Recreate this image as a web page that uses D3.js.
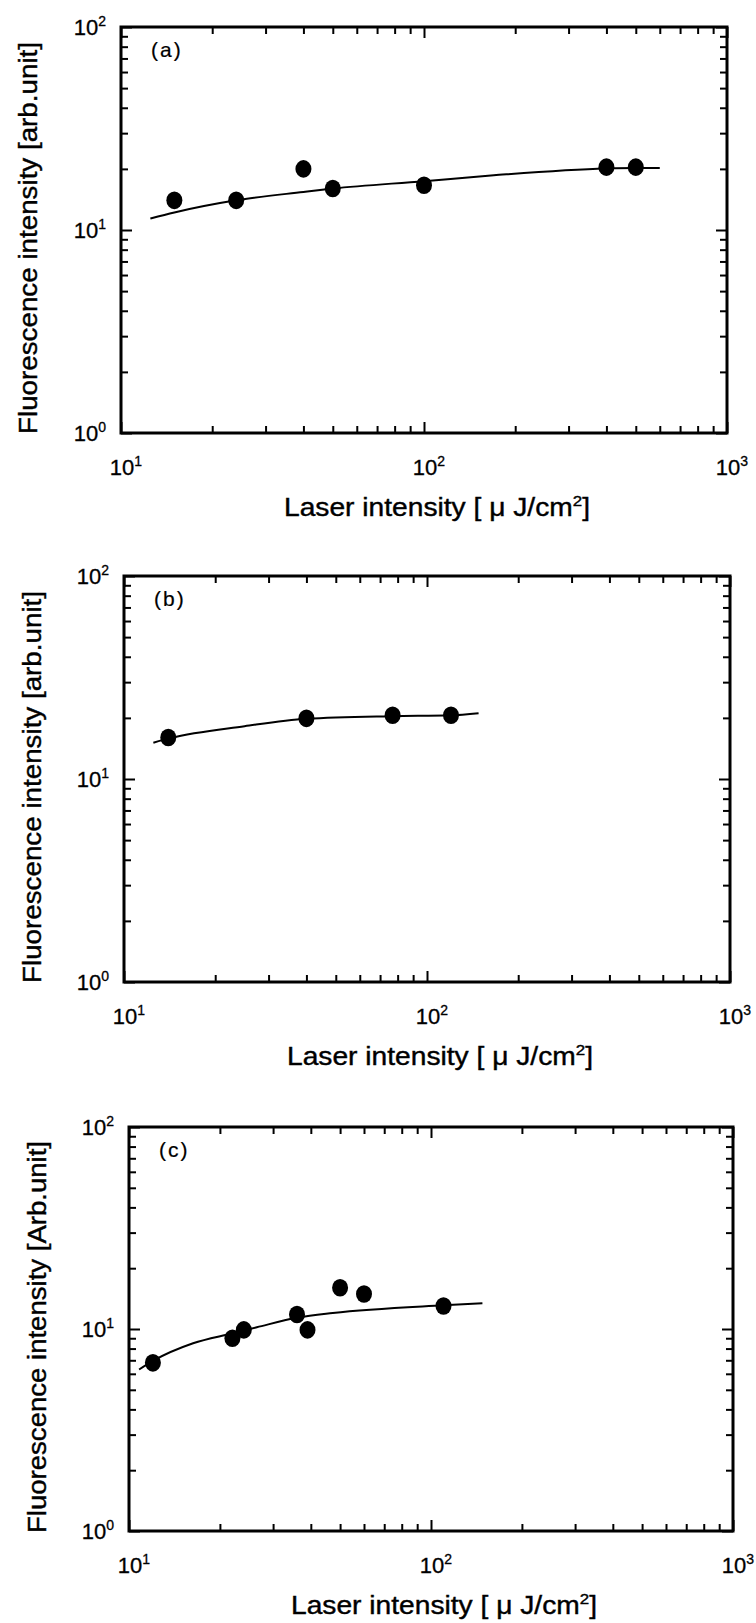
<!DOCTYPE html>
<html><head><meta charset="utf-8">
<script src="https://cdn.jsdelivr.net/npm/d3@7"></script>
<style>
  body { margin: 0; background: #fff; }
  svg { display: block; }
  text { font-family: "Liberation Sans", Arial, sans-serif; fill: #000; }
</style>
</head><body>
<svg id="fig" width="756" height="1623"></svg>
<script>
// Fluorescence intensity versus laser intensity for three samples, log-log axes.

const panelLabels = ["(a)", "(b)", "(c)"];
const yTitles = [
  "Fluorescence intensity [arb.unit]",
  "Fluorescence intensity [arb.unit]",
  "Fluorescence intensity [Arb.unit]"
];
const xTitle = "Laser intensity [ \u03bc J/cm";
const xTitleSup = "2";

const xMajorTicks = [10, 100, 1000];
const xMajorExp = ["1", "2", "3"];
const xMinorTicks = [20, 30, 40, 50, 60, 70, 80, 90, 200, 300, 400, 500, 600, 700, 800, 900];
const yMajorTicks = [1, 10, 100];
const yMajorExp = ["0", "1", "2"];
const yMinorTicks = [2, 3, 4, 5, 6, 7, 8, 9, 20, 30, 40, 50, 60, 70, 80, 90];

// (a) measured points and fitted curve
const pointsA_x = [15, 24, 40, 50, 100, 400, 500];
const pointsA_y = [14, 14, 20, 16, 16.6, 20.4, 20.4];
const fitA_x = [12.5, 15, 24, 40, 50, 100, 170, 400, 500, 600];
const fitA_y = [11.4, 12.2, 14.0, 15.4, 16.0, 17.4, 18.6, 20.1, 20.2, 20.2];

// (b)
const pointsB_x = [14, 40, 77, 120];
const pointsB_y = [16, 19.9, 20.6, 20.6];
const fitB_x = [12.5, 14.2, 25, 40, 77, 120, 148];
const fitB_y = [15.1, 15.9, 18.2, 19.8, 20.4, 20.6, 21.1];

// (c)
const pointsC_x = [12, 22, 24, 36, 39, 50, 60, 110];
const pointsC_y = [6.8, 9.0, 9.9, 11.8, 9.9, 16, 14.9, 13];
const fitC_x = [10.8, 12, 16.3, 21.9, 26.5, 36.3, 47.3, 110, 148];
const fitC_y = [6.3, 6.95, 8.5, 9.5, 10.2, 11.4, 12.0, 13.1, 13.4];

const series = [
  { px: pointsA_x, py: pointsA_y, fx: fitA_x, fy: fitA_y },
  { px: pointsB_x, py: pointsB_y, fx: fitB_x, fy: fitB_y },
  { px: pointsC_x, py: pointsC_y, fx: fitC_x, fy: fitC_y }
];

// frame of each plot area
const frames = [
  { left: 121, top: 27,   w: 606, h: 406, yLabelX: 28, xTitleX: 437 },
  { left: 124, top: 576,  w: 606, h: 406, yLabelX: 32, xTitleX: 440 },
  { left: 129, top: 1127, w: 604, h: 404, yLabelX: 37, xTitleX: 444 }
];

const svg = d3.select("#fig");

frames.forEach((f, i) => {
  const s = series[i];
  const x = d3.scaleLog().domain([10, 1000]).range([0, f.w]);
  const y = d3.scaleLog().domain([1, 100]).range([f.h, 0]);

  const g = svg.append("g").attr("transform", `translate(${f.left},${f.top})`);

  // inward ticks on all four sides
  const tickSets = [
    { gen: d3.axisBottom, sc: x, tr: `translate(0,${f.h})` },
    { gen: d3.axisTop, sc: x, tr: `translate(0,0)` },
    { gen: d3.axisLeft, sc: y, tr: `translate(0,0)` },
    { gen: d3.axisRight, sc: y, tr: `translate(${f.w},0)` }
  ];
  tickSets.forEach(t => {
    const isX = t.sc === x;
    [[isX ? xMajorTicks : yMajorTicks, 11], [isX ? xMinorTicks : yMinorTicks, 7]].forEach(([vals, len]) => {
      const ax = g.append("g").attr("transform", t.tr)
        .call(t.gen(t.sc).tickValues(vals).tickSize(-len).tickFormat(""));
      ax.select(".domain").remove();
      ax.selectAll("line").attr("stroke", "#000").attr("stroke-width", 2);
    });
  });

  // frame
  g.append("rect").attr("x", 0).attr("y", 0).attr("width", f.w).attr("height", f.h)
    .attr("fill", "none").attr("stroke", "#000").attr("stroke-width", 3);

  // y tick labels (10^n)
  yMajorTicks.forEach((v, k) => {
    const t = g.append("text")
      .attr("x", -15).attr("y", y(v) + 8)
      .attr("text-anchor", "end").attr("font-size", 22)
      .attr("stroke", "#000").attr("stroke-width", 0.3);
    t.append("tspan").text("10");
    t.append("tspan").attr("dy", -9).attr("font-size", 14).text(yMajorExp[k]);
  });

  // x tick labels (10^n)
  xMajorTicks.forEach((v, k) => {
    const t = g.append("text")
      .attr("x", x(v) + 5).attr("y", f.h + 42)
      .attr("text-anchor", "middle").attr("font-size", 22)
      .attr("stroke", "#000").attr("stroke-width", 0.3);
    t.append("tspan").text("10");
    t.append("tspan").attr("dy", -9).attr("font-size", 14).text(xMajorExp[k]);
  });

  // panel label
  g.append("text").attr("x", 30).attr("y", 30).attr("font-size", 21)
    .attr("stroke", "#000").attr("stroke-width", 0.2)
    .attr("letter-spacing", 2).text(panelLabels[i]);

  // fitted curve
  const fit = s.fx.map((v, k) => [v, s.fy[k]]);
  g.append("path").datum(fit)
    .attr("d", d3.line().x(d => x(d[0])).y(d => y(d[1])).curve(d3.curveMonotoneX))
    .attr("fill", "none").attr("stroke", "#000").attr("stroke-width", 2);

  // measured points
  const pts = s.px.map((v, k) => [v, s.py[k]]);
  g.selectAll("ellipse.pt").data(pts).join("ellipse").attr("class", "pt")
    .attr("cx", d => x(d[0])).attr("cy", d => y(d[1]))
    .attr("rx", 8).attr("ry", 8.8).attr("fill", "#000");

  // y axis title
  svg.append("text")
    .attr("transform", `translate(${f.yLabelX + 9},${f.top + f.h / 2 + 8}) rotate(-90)`)
    .attr("text-anchor", "middle").attr("font-size", 25)
    .attr("stroke", "#000").attr("stroke-width", 0.4)
    .attr("textLength", 392).attr("lengthAdjust", "spacingAndGlyphs")
    .text(yTitles[i]);

  // x axis title
  const xt = svg.append("text")
    .attr("x", f.xTitleX).attr("y", f.top + f.h + 83)
    .attr("text-anchor", "middle").attr("font-size", 25)
    .attr("stroke", "#000").attr("stroke-width", 0.4)
    .attr("textLength", 306).attr("lengthAdjust", "spacingAndGlyphs");
  xt.append("tspan").text(xTitle);
  xt.append("tspan").attr("dy", -10).attr("font-size", 15).text(xTitleSup);
  xt.append("tspan").attr("dy", 10).text("]");
});
</script>
</body></html>
